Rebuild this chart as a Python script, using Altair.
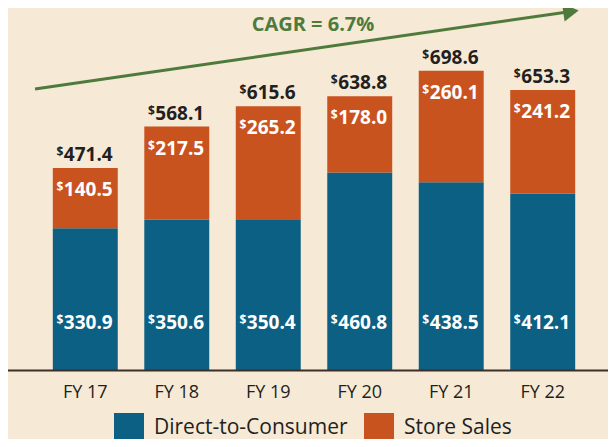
import altair as alt
import pandas as pd

years = ["FY 17", "FY 18", "FY 19", "FY 20", "FY 21", "FY 22"]
dtc = [330.9, 350.6, 350.4, 460.8, 438.5, 412.1]
store = [140.5, 217.5, 265.2, 178.0, 260.1, 241.2]
totals = [471.4, 568.1, 615.6, 638.8, 698.6, 653.3]
series = ["Direct-to-Consumer", "Store Sales"]
cagr_label = ["CAGR = 6.7%"]

BG = "#f6e9d6"
BLUE = "#0b6084"
ORANGE = "#c8531f"
GREEN = "#4e7b3c"
DARK = "#231f20"
FONT = "Open Sans"

rows = []
for yr, d, s in zip(years, dtc, store):
    rows.append({"year": yr, "series": series[0], "value": d, "order": 0})
    rows.append({"year": yr, "series": series[1], "value": s, "order": 1})
df = pd.DataFrame(rows)

tot = pd.DataFrame({"year": years, "dtc": dtc, "store": store, "total": totals})
tot["dtc_lbl"] = [f"{v:.1f}" for v in dtc]
tot["store_lbl"] = [f"{v:.1f}" for v in store]
tot["total_lbl"] = [f"{v:.1f}" for v in totals]
tot["dollar"] = "$"

x_enc = alt.X(
    "year:N",
    sort=years,
    scale=alt.Scale(paddingInner=0.29, paddingOuter=0.14),
    axis=alt.Axis(
        title=None, domain=False, ticks=False, labelAngle=0,
        labelFontSize=18, labelColor=DARK, labelFont=FONT,
        labelPadding=22, labelBaseline="middle",
    ),
)
y_scale = alt.Scale(domain=[0, 845], nice=False, zero=True)

bars = alt.Chart(df).mark_bar().encode(
    x=x_enc,
    y=alt.Y("value:Q", stack="zero", scale=y_scale, axis=None),
    color=alt.Color(
        "series:N",
        scale=alt.Scale(domain=series, range=[BLUE, ORANGE]),
        legend=alt.Legend(
            title=None, orient="none", legendX=74, legendY=405,
            direction="horizontal", symbolType="square", symbolSize=900,
            symbolStrokeWidth=0, labelFontSize=21, labelFont=FONT,
            labelColor=DARK, labelOffset=10, columnPadding=16,
            labelLimit=400,
        ),
    ),
    order=alt.Order("order:Q"),
)

base = alt.Chart(tot)

def num_layer(field, ypos, dy, color, size):
    return base.mark_text(
        align="center", baseline="alphabetic", dx=3, dy=dy,
        fontSize=size, fontWeight="bold", color=color, font=FONT,
    ).encode(x=x_enc, y=ypos, text=f"{field}:N")

def dollar_layer(ypos, dy, color):
    return base.mark_text(
        align="right", baseline="alphabetic", dx=-22, dy=dy - 5,
        fontSize=12, fontWeight="bold", color=color, font=FONT,
    ).encode(x=x_enc, y=ypos, text="dollar:N")

y_fixed = alt.value(321)
y_total = alt.Y("total:Q", scale=y_scale, axis=None)

labels = [
    num_layer("dtc_lbl", y_fixed, 0, "white", 19),
    dollar_layer(y_fixed, 0, "white"),
    num_layer("store_lbl", y_total, 28, "white", 19),
    dollar_layer(y_total, 28, "white"),
    num_layer("total_lbl", y_total, -7, DARK, 19),
    dollar_layer(y_total, -7, DARK),
]

one = pd.DataFrame({"label": cagr_label})

axis_line = alt.Chart(one).mark_rule(color="#3b2f27", strokeWidth=2).encode(
    x=alt.value(-32), x2=alt.value(568), y=alt.value(362.5)
)

arrow_line = alt.Chart(one).mark_rule(color=GREEN, strokeWidth=3).encode(
    x=alt.value(-5), x2=alt.value(524), y=alt.value(81), y2=alt.value(4.5)
)
arrow_head = alt.Chart(one).mark_point(
    shape="triangle-right", filled=True, size=320, angle=351.7,
    color=GREEN, opacity=1,
).encode(x=alt.value(531), y=alt.value(3.5))

cagr = alt.Chart(one).mark_text(
    align="center", baseline="alphabetic", fontSize=20, fontWeight="bold",
    color=GREEN, font=FONT,
).encode(x=alt.value(273), y=alt.value(23), text="label:N")

chart = alt.layer(
    bars, *labels, axis_line, arrow_line, arrow_head, cagr
).properties(
    width=548, height=362, background=BG,
    padding={"left": 32, "top": 0, "right": 20, "bottom": 69},
    autosize=alt.AutoSizeParams(type="none"),
).configure_view(stroke=None)

chart.save("out.html", embed_options={"renderer": "svg", "actions": False})
